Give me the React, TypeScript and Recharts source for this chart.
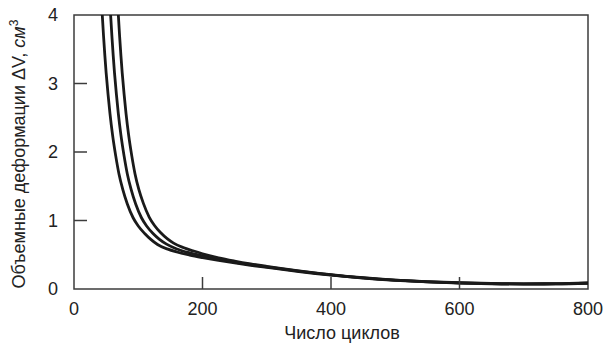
import React from 'react';
import { LineChart, Line, XAxis, YAxis, ReferenceArea } from 'recharts';

// значения (три кривые)
const cyclesA = [44, 46, 48, 50, 53, 56, 60, 65, 70, 76, 83, 92, 100, 110, 120, 130, 145, 160, 180, 200, 225, 250, 275, 300, 350, 400, 450, 500, 550, 600, 650, 700, 750, 800];
const volumeA = [4, 3.69, 3.41, 3.16, 2.84, 2.56, 2.25, 1.94, 1.68, 1.45, 1.24, 1.04, 0.92, 0.81, 0.72, 0.65, 0.585, 0.54, 0.495, 0.458, 0.417, 0.38, 0.346, 0.315, 0.255, 0.203, 0.16, 0.127, 0.103, 0.087, 0.077, 0.072, 0.074, 0.084];

const cyclesB = [57, 59, 61, 63, 66, 69, 73, 78, 83, 89, 96, 105, 113, 123, 133, 144, 160, 180, 200, 225, 250, 275, 300, 350, 400, 450, 500, 550, 600, 650, 700, 750, 800];
const volumeB = [4, 3.69, 3.41, 3.16, 2.84, 2.56, 2.25, 1.94, 1.68, 1.45, 1.24, 1.04, 0.92, 0.81, 0.725, 0.655, 0.585, 0.527, 0.484, 0.435, 0.393, 0.357, 0.323, 0.26, 0.206, 0.162, 0.129, 0.105, 0.089, 0.079, 0.074, 0.076, 0.087];

const cyclesC = [69, 71, 73, 75, 78, 81, 85, 90, 95, 101, 108, 117, 125, 135, 145, 155, 170, 185, 200, 225, 250, 275, 300, 350, 400, 450, 500, 550, 600, 650, 700, 750, 800];
const volumeC = [4, 3.69, 3.41, 3.16, 2.84, 2.56, 2.25, 1.94, 1.68, 1.45, 1.25, 1.05, 0.93, 0.82, 0.735, 0.67, 0.605, 0.558, 0.515, 0.455, 0.408, 0.367, 0.331, 0.266, 0.21, 0.165, 0.131, 0.107, 0.091, 0.081, 0.076, 0.078, 0.09];

const xTicks = [0, 200, 400, 600, 800];
const yTicks = [0, 1, 2, 3, 4];

const toRows = (xs: number[], ys: number[]) => xs.map((x, i) => ({ x, y: ys[i] }));
const series = [toRows(cyclesA, volumeA), toRows(cyclesB, volumeB), toRows(cyclesC, volumeC)];

const FONT = '"Liberation Sans", Arial, sans-serif';
const AXIS = '#3c3c3c';

const YTick = (props: any) => {
  const { x, y, payload } = props;
  const v = payload.value;
  return (
    <g>
      {v !== 0 && v !== 4 && <line x1={x} x2={x + 13} y1={y} y2={y} stroke={AXIS} strokeWidth={1.5} />}
      <text x={x - 16} y={y + 6} textAnchor="end" fontSize={18} fill="#222" fontFamily={FONT}>
        {v}
      </text>
    </g>
  );
};

const XTick = (props: any) => {
  const { x, y, payload } = props;
  const v = payload.value;
  return (
    <g>
      {v !== 0 && v !== 800 && <line x1={x} x2={x} y1={y} y2={y - 12} stroke={AXIS} strokeWidth={1.5} />}
      <text x={x} y={y + 26} textAnchor="middle" fontSize={18} fill="#222" fontFamily={FONT}>
        {v}
      </text>
    </g>
  );
};

export default function App() {
  return (
    <div style={{ position: 'absolute', left: 0, top: 0, width: 606, height: 345, background: '#fff' }}>
      <LineChart width={606} height={345} margin={{ top: 15, right: 18, bottom: 0, left: 0 }}>
        <XAxis
          type="number"
          dataKey="x"
          domain={[0, 800]}
          ticks={xTicks}
          height={56}
          tickSize={0}
          tickMargin={0}
          tickLine={false}
          axisLine={false}
          tick={<XTick />}
          interval={0}
        />
        <YAxis
          type="number"
          dataKey="y"
          domain={[0, 4]}
          ticks={yTicks}
          width={74}
          tickSize={0}
          tickMargin={0}
          tickLine={false}
          axisLine={false}
          tick={<YTick />}
          allowDataOverflow
          interval={0}
        />
        <ReferenceArea x1={0} x2={800} y1={0} y2={4} fill="none" stroke={AXIS} strokeWidth={1.5} />
        {series.map((d, i) => (
          <Line
            key={i}
            data={d}
            dataKey="y"
            type="monotone"
            stroke="#1a1a1a"
            strokeWidth={2.8}
            dot={false}
            activeDot={false}
            isAnimationActive={false}
          />
        ))}
        <text x={342} y={339} textAnchor="middle" fontSize={18} fill="#222" fontFamily={FONT}>
          Число циклов
        </text>
        <text
          x={25}
          y={154}
          transform="rotate(-90 25 154)"
          textAnchor="middle"
          fontSize={18}
          fill="#222"
          fontFamily={FONT}
        >
          Объемные деформации ΔV, <tspan fontStyle="italic">см</tspan>
          <tspan fontSize={12} dy={-7}>3</tspan>
        </text>
      </LineChart>
    </div>
  );
}
